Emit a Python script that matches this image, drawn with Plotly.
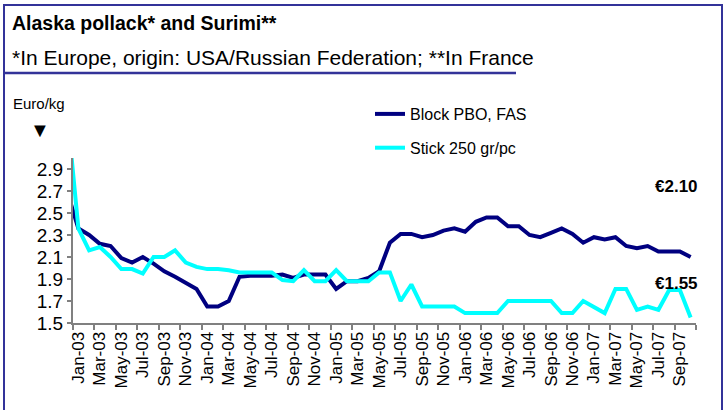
import plotly.graph_objects as go

# ---------------- data ----------------
# First entry (Dec-02) is only partly visible at the left edge of the chart
months = ["Dec-02",
          "Jan-03", "Feb-03", "Mar-03", "Apr-03", "May-03", "Jun-03", "Jul-03", "Aug-03", "Sep-03", "Oct-03", "Nov-03", "Dec-03",
          "Jan-04", "Feb-04", "Mar-04", "Apr-04", "May-04", "Jun-04", "Jul-04", "Aug-04", "Sep-04", "Oct-04", "Nov-04", "Dec-04",
          "Jan-05", "Feb-05", "Mar-05", "Apr-05", "May-05", "Jun-05", "Jul-05", "Aug-05", "Sep-05", "Oct-05", "Nov-05", "Dec-05",
          "Jan-06", "Feb-06", "Mar-06", "Apr-06", "May-06", "Jun-06", "Jul-06", "Aug-06", "Sep-06", "Oct-06", "Nov-06", "Dec-06",
          "Jan-07", "Feb-07", "Mar-07", "Apr-07", "May-07", "Jun-07", "Jul-07", "Aug-07", "Sep-07", "Oct-07"]

block_pbo_fas = [2.68,
                 2.36, 2.30, 2.22, 2.20, 2.09, 2.05, 2.10, 2.04, 1.97, 1.92, 1.86, 1.81,
                 1.65, 1.65, 1.70, 1.92, 1.93, 1.93, 1.93, 1.94, 1.91, 1.94, 1.94, 1.94,
                 1.81, 1.88, 1.88, 1.91, 1.97, 2.23, 2.31, 2.31, 2.28, 2.30, 2.34, 2.36,
                 2.33, 2.42, 2.46, 2.46, 2.38, 2.38, 2.30, 2.28, 2.32, 2.36, 2.31, 2.23,
                 2.28, 2.26, 2.28, 2.20, 2.18, 2.20, 2.15, 2.15, 2.15, 2.10]

stick_250 = [3.38,
             2.36, 2.16, 2.19, 2.10, 1.99, 1.99, 1.95, 2.10, 2.10, 2.16, 2.05, 2.01,
             1.99, 1.99, 1.98, 1.96, 1.96, 1.96, 1.96, 1.89, 1.88, 1.98, 1.88, 1.88,
             1.98, 1.88, 1.88, 1.88, 1.96, 1.96, 1.70, 1.85, 1.65, 1.65, 1.65, 1.65,
             1.59, 1.59, 1.59, 1.59, 1.70, 1.70, 1.70, 1.70, 1.70, 1.59, 1.59, 1.70,
             1.65, 1.59, 1.81, 1.81, 1.62, 1.65, 1.62, 1.80, 1.80, 1.55]

series_names = ["Block PBO, FAS", "Stick 250 gr/pc"]
y_ticks = [1.5, 1.7, 1.9, 2.1, 2.3, 2.5, 2.7, 2.9]
end_labels = ["€2.10", "€1.55"]

# ---------------- figure ----------------
W, H = 726, 410
L, R, T, B = 73, 30, 158, 87
PW, PH = W - L - R, H - T - B


def px(x):
    return (x - L) / PW


def py(y):
    return (H - B - y) / PH


xidx = list(range(-1, len(months) - 1))  # Jan-03 -> 0
cat_months = months[1:]
n = len(cat_months)

FONT = "Liberation Sans, Arial, sans-serif"
FRAME = "#333399"

fig = go.Figure()
fig.add_trace(go.Scatter(x=xidx, y=block_pbo_fas, mode="lines", name=series_names[0],
                         line=dict(color="#000080", width=4), legendgroup="a"))
fig.add_trace(go.Scatter(x=xidx, y=stick_250, mode="lines", name=series_names[1],
                         line=dict(color="#00FFFF", width=4), legendgroup="b"))

fig.update_layout(
    width=W, height=H,
    margin=dict(l=L, r=R, t=T, b=B, autoexpand=False),
    paper_bgcolor="white", plot_bgcolor="white",
    font=dict(family=FONT, color="black"),
    showlegend=True,
    legend=dict(xref="container", yref="container", x=370 / W, y=1 - 97 / H,
                xanchor="left", yanchor="top",
                font=dict(size=16, family=FONT), tracegroupgap=10,
                bgcolor="rgba(0,0,0,0)", traceorder="grouped"),
    xaxis=dict(range=[-0.5, n - 0.5], showgrid=False, zeroline=False, automargin=False,
               showline=True, linecolor="#808080", linewidth=2,
               tickmode="array", tickvals=list(range(0, n, 2)), ticktext=cat_months[::2],
               tickangle=-90, ticks="", tickfont=dict(size=17),
               minor=dict(tickmode="array", tickvals=[i - 0.5 for i in range(0, n + 1, 2)],
                          ticks="outside", ticklen=5, tickcolor="#808080", tickwidth=1.5)),
    yaxis=dict(range=[1.5, 3.0], showgrid=False, zeroline=False, automargin=False,
               showline=True, linecolor="#808080", linewidth=2,
               tickmode="array", tickvals=y_ticks, tickformat=".1f",
               ticks="outside", ticklen=4, tickcolor="#808080", tickwidth=1.5,
               tickfont=dict(size=19)),
)

shapes = [
    dict(type="rect", xref="paper", yref="paper", x0=px(4), y0=py(425), x1=px(722), y1=py(5),
         line=dict(color=FRAME, width=2), fillcolor="rgba(0,0,0,0)", layer="below"),
    dict(type="line", xref="paper", yref="paper", x0=px(5), y0=py(73), x1=px(516), y1=py(73),
         line=dict(color=FRAME, width=2.5)),
]
fig.update_layout(shapes=shapes)

ann = [
    dict(text="Alaska pollack* and Surimi**", x=px(10), y=py(23), xanchor="left", yanchor="middle",
         font=dict(size=19.5, weight="bold")),
    dict(text="*In Europe, origin: USA/Russian Federation; **In France", x=px(10), y=py(57),
         xanchor="left", yanchor="middle", font=dict(size=21)),
    dict(text="Euro/kg", x=px(39), y=py(104), xanchor="center", yanchor="middle", font=dict(size=15)),
    dict(text="▼", x=px(40), y=py(130), xanchor="center", yanchor="middle", font=dict(size=20)),
    dict(text=end_labels[0], x=px(700), y=py(186), xanchor="right", yanchor="middle",
         font=dict(size=17, weight="bold")),
    dict(text=end_labels[1], x=px(700), y=py(283), xanchor="right", yanchor="middle",
         font=dict(size=17, weight="bold")),
]
for a in ann:
    a.update(xref="paper", yref="paper", showarrow=False)
fig.update_layout(annotations=ann)

fig.write_html("out.html", config={"displayModeBar": False},
               post_script="document.body.style.margin='0';")
